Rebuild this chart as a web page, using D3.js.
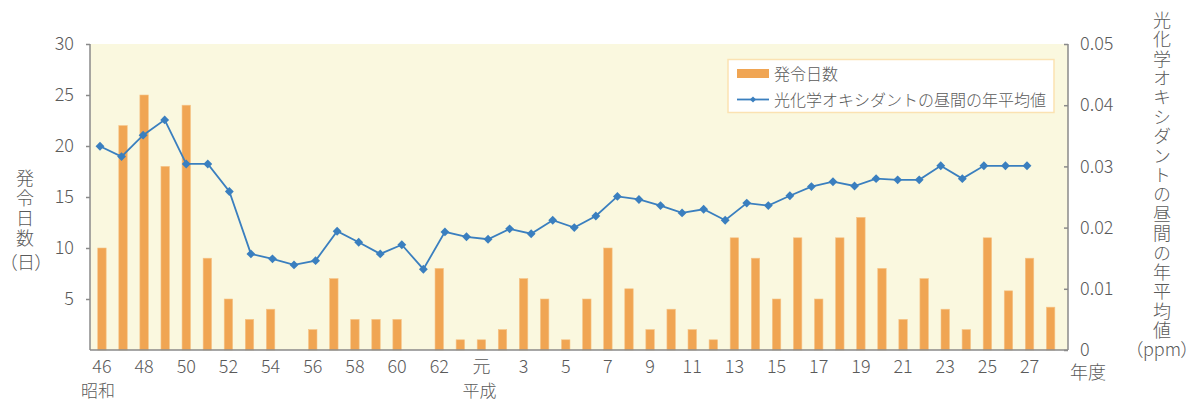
<html>
<head>
<meta charset="utf-8">
<script src="https://d3js.org/d3.v7.min.js"></script>
<style>
  body { margin: 0; background: #fff; }
  text { font-family: "Noto Sans CJK JP", "Noto Sans", sans-serif; font-weight: 300; fill: #5a5a5a; }
</style>
</head>
<body>
<script>
  // fiscal year labels: Showa 46-63, Heisei 元-28
  var years = ["46","47","48","49","50","51","52","53","54","55","56","57","58","59","60","61","62","63",
               "元","2","3","4","5","6","7","8","9","10","11","12","13","14","15","16","17","18","19","20",
               "21","22","23","24","25","26","27","28"];
  // number of alert days
  var days = [10,22,25,18,24,9,5,3,4,0,2,7,3,3,3,0,8,1,
              1,2,7,5,1,5,10,6,2,4,2,1,11,9,5,11,5,11,13,8,3,7,4,2,11,5.8,9,4.2];
  // daytime annual mean of photochemical oxidants (ppm)
  var oxidant = [0.0333,0.0316,0.0351,0.0376,0.0304,0.0304,0.0259,0.0157,0.0149,0.0139,0.0146,
                 0.0194,0.0176,0.0157,0.0172,0.0132,0.0193,0.0185,0.0181,0.0198,0.0190,0.0212,
                 0.0200,0.0219,0.0251,0.0246,0.0236,0.0224,0.0230,0.0212,0.0240,0.0236,0.0252,
                 0.0267,0.0275,0.0268,0.0280,0.0278,0.0278,0.0301,0.0280,0.0301,0.0301,0.0301];
  var leftTicks = [5,10,15,20,25,30];
  var rightTicks = [0,0.01,0.02,0.03,0.04,0.05];

  var width = 1191, height = 401;
  var pLeft = 90, pRight = 1068, pTop = 44, pBottom = 350;

  var svg = d3.select("body").append("svg")
              .attr("width", width)
              .attr("height", height);

  var x = d3.scaleBand()
            .domain(years)
            .range([pLeft, pRight])
            .paddingInner(0.6)
            .paddingOuter(0.495)
            .align(0.37);

  // the line in the original is spread over its own positions
  var xLine = d3.scalePoint()
                .domain(d3.range(oxidant.length))
                .range([100, 1027]);

  var yLeft = d3.scaleLinear().domain([0, 30]).range([pBottom, pTop]);
  var yRight = d3.scaleLinear().domain([0, 0.05]).range([pBottom, pTop]);

  // plot background
  svg.append("rect")
     .attr("x", pLeft).attr("y", pTop)
     .attr("width", pRight - pLeft).attr("height", pBottom - pTop)
     .attr("fill", "#faf8df");

  // bars
  svg.selectAll("rect.bar")
     .data(days)
     .enter()
       .append("rect")
       .attr("class", "bar")
       .attr("x", function(d, i){ return x(years[i]); })
       .attr("width", x.bandwidth())
       .attr("y", function(d){ return yLeft(d); })
       .attr("height", function(d){ return pBottom - yLeft(d); })
       .attr("fill", "#f0a553")
       .attr("stroke", "#f6c487")
       .attr("stroke-width", 0.6);

  // axes
  var leftAxis = d3.axisLeft(yLeft).tickValues(leftTicks).tickSize(4).tickPadding(12);
  var gl = svg.append("g").attr("transform", "translate(" + pLeft + ",0)").call(leftAxis);
  gl.select(".domain").remove();
  gl.append("line").attr("x1", 0).attr("x2", 0).attr("y1", pTop).attr("y2", pBottom)
    .attr("stroke", "#8a8a8a").attr("stroke-width", 1.5);
  gl.selectAll(".tick line").attr("stroke", "#8a8a8a").attr("stroke-width", 1.5);
  gl.selectAll(".tick text").style("font-size", "18px").attr("fill", "#5a5a5a");

  var rightAxis = d3.axisRight(yRight).tickValues(rightTicks).tickSize(-4).tickPadding(12)
                    .tickFormat(function(d){ return d === 0 ? "0" : d3.format(".2f")(d); });
  var gr = svg.append("g").attr("transform", "translate(" + pRight + ",0)").call(rightAxis);
  gr.select(".domain").remove();
  gr.append("line").attr("x1", 0).attr("x2", 0).attr("y1", pTop).attr("y2", pBottom)
    .attr("stroke", "#8a8a8a").attr("stroke-width", 1.5);
  gr.selectAll(".tick line").attr("stroke", "#8a8a8a").attr("stroke-width", 1.5);
  gr.selectAll(".tick text").style("font-size", "18px").attr("fill", "#5a5a5a");

  var bottomAxis = d3.axisBottom(x)
                     .tickValues(years.filter(function(d, i){ return i % 2 === 0; }))
                     .tickSize(0).tickPadding(10);
  var gb = svg.append("g").attr("transform", "translate(0," + pBottom + ")").call(bottomAxis);
  gb.select(".domain").remove();
  gb.append("line").attr("x1", pLeft).attr("x2", pRight).attr("y1", 0).attr("y2", 0)
    .attr("stroke", "#8a8a8a").attr("stroke-width", 1.5);
  gb.selectAll(".tick text").style("font-size", "18px").attr("fill", "#5a5a5a");

  // era and unit labels
  svg.append("text").attr("x", x("46") + x.bandwidth() / 2 - 4).attr("y", 397)
     .attr("text-anchor", "middle").style("font-size", "17px").text("昭和");
  svg.append("text").attr("x", x("元") + x.bandwidth() / 2 - 2).attr("y", 397)
     .attr("text-anchor", "middle").style("font-size", "17px").text("平成");
  svg.append("text").attr("x", 1070).attr("y", 379)
     .style("font-size", "18px").text("年度");

  // line + diamond markers
  var line = d3.line()
               .x(function(d, i){ return xLine(i); })
               .y(function(d){ return yRight(d); });
  svg.append("path")
     .datum(oxidant)
     .attr("d", line)
     .attr("fill", "none")
     .attr("stroke", "#3a7fbf")
     .attr("stroke-width", 1.8);
  var diamond = d3.symbol().type(d3.symbolDiamond2).size(50);
  svg.selectAll("path.pt")
     .data(oxidant)
     .enter()
       .append("path")
       .attr("class", "pt")
       .attr("d", diamond)
       .attr("transform", function(d, i){ return "translate(" + xLine(i) + "," + yRight(d) + ")"; })
       .attr("fill", "#3a7fbf");

  // axis titles, written vertically
  svg.append("text").attr("x", 25).attr("y", 169)
     .style("writing-mode", "vertical-rl").style("letter-spacing", "2px")
     .style("font-size", "18px").text("発令日数");
  svg.append("text").attr("x", 26).attr("y", 269).attr("text-anchor", "middle")
     .style("font-size", "18px").style("font-feature-settings", "'palt'").text("（日）");

  svg.append("text").attr("x", 1162).attr("y", 11)
     .style("writing-mode", "vertical-rl").style("letter-spacing", "1.4px")
     .style("font-size", "18px").text("光化学オキシダントの昼間の年平均値");
  svg.append("text").attr("x", 1162).attr("y", 356).attr("text-anchor", "middle")
     .style("font-size", "18px").style("font-feature-settings", "'palt'").text("（ppm）");

  // legend
  var lg = svg.append("g");
  lg.append("rect").attr("x", 728).attr("y", 59.5).attr("width", 326).attr("height", 53)
    .attr("fill", "#ffffff").attr("stroke", "#fbe2b2").attr("stroke-width", 1.5);
  lg.append("rect").attr("x", 737).attr("y", 69).attr("width", 32).attr("height", 9)
    .attr("fill", "#f0a553");
  lg.append("text").attr("x", 774).attr("y", 80).style("font-size", "16px").text("発令日数");
  lg.append("line").attr("x1", 737).attr("x2", 769).attr("y1", 99.5).attr("y2", 99.5)
    .attr("stroke", "#3a7fbf").attr("stroke-width", 1.8);
  lg.append("path").attr("d", d3.symbol().type(d3.symbolDiamond2).size(24))
    .attr("transform", "translate(753,99.5)").attr("fill", "#3a7fbf");
  lg.append("text").attr("x", 774).attr("y", 106).style("font-size", "16px")
    .text("光化学オキシダントの昼間の年平均値");
</script>
</body>
</html>
